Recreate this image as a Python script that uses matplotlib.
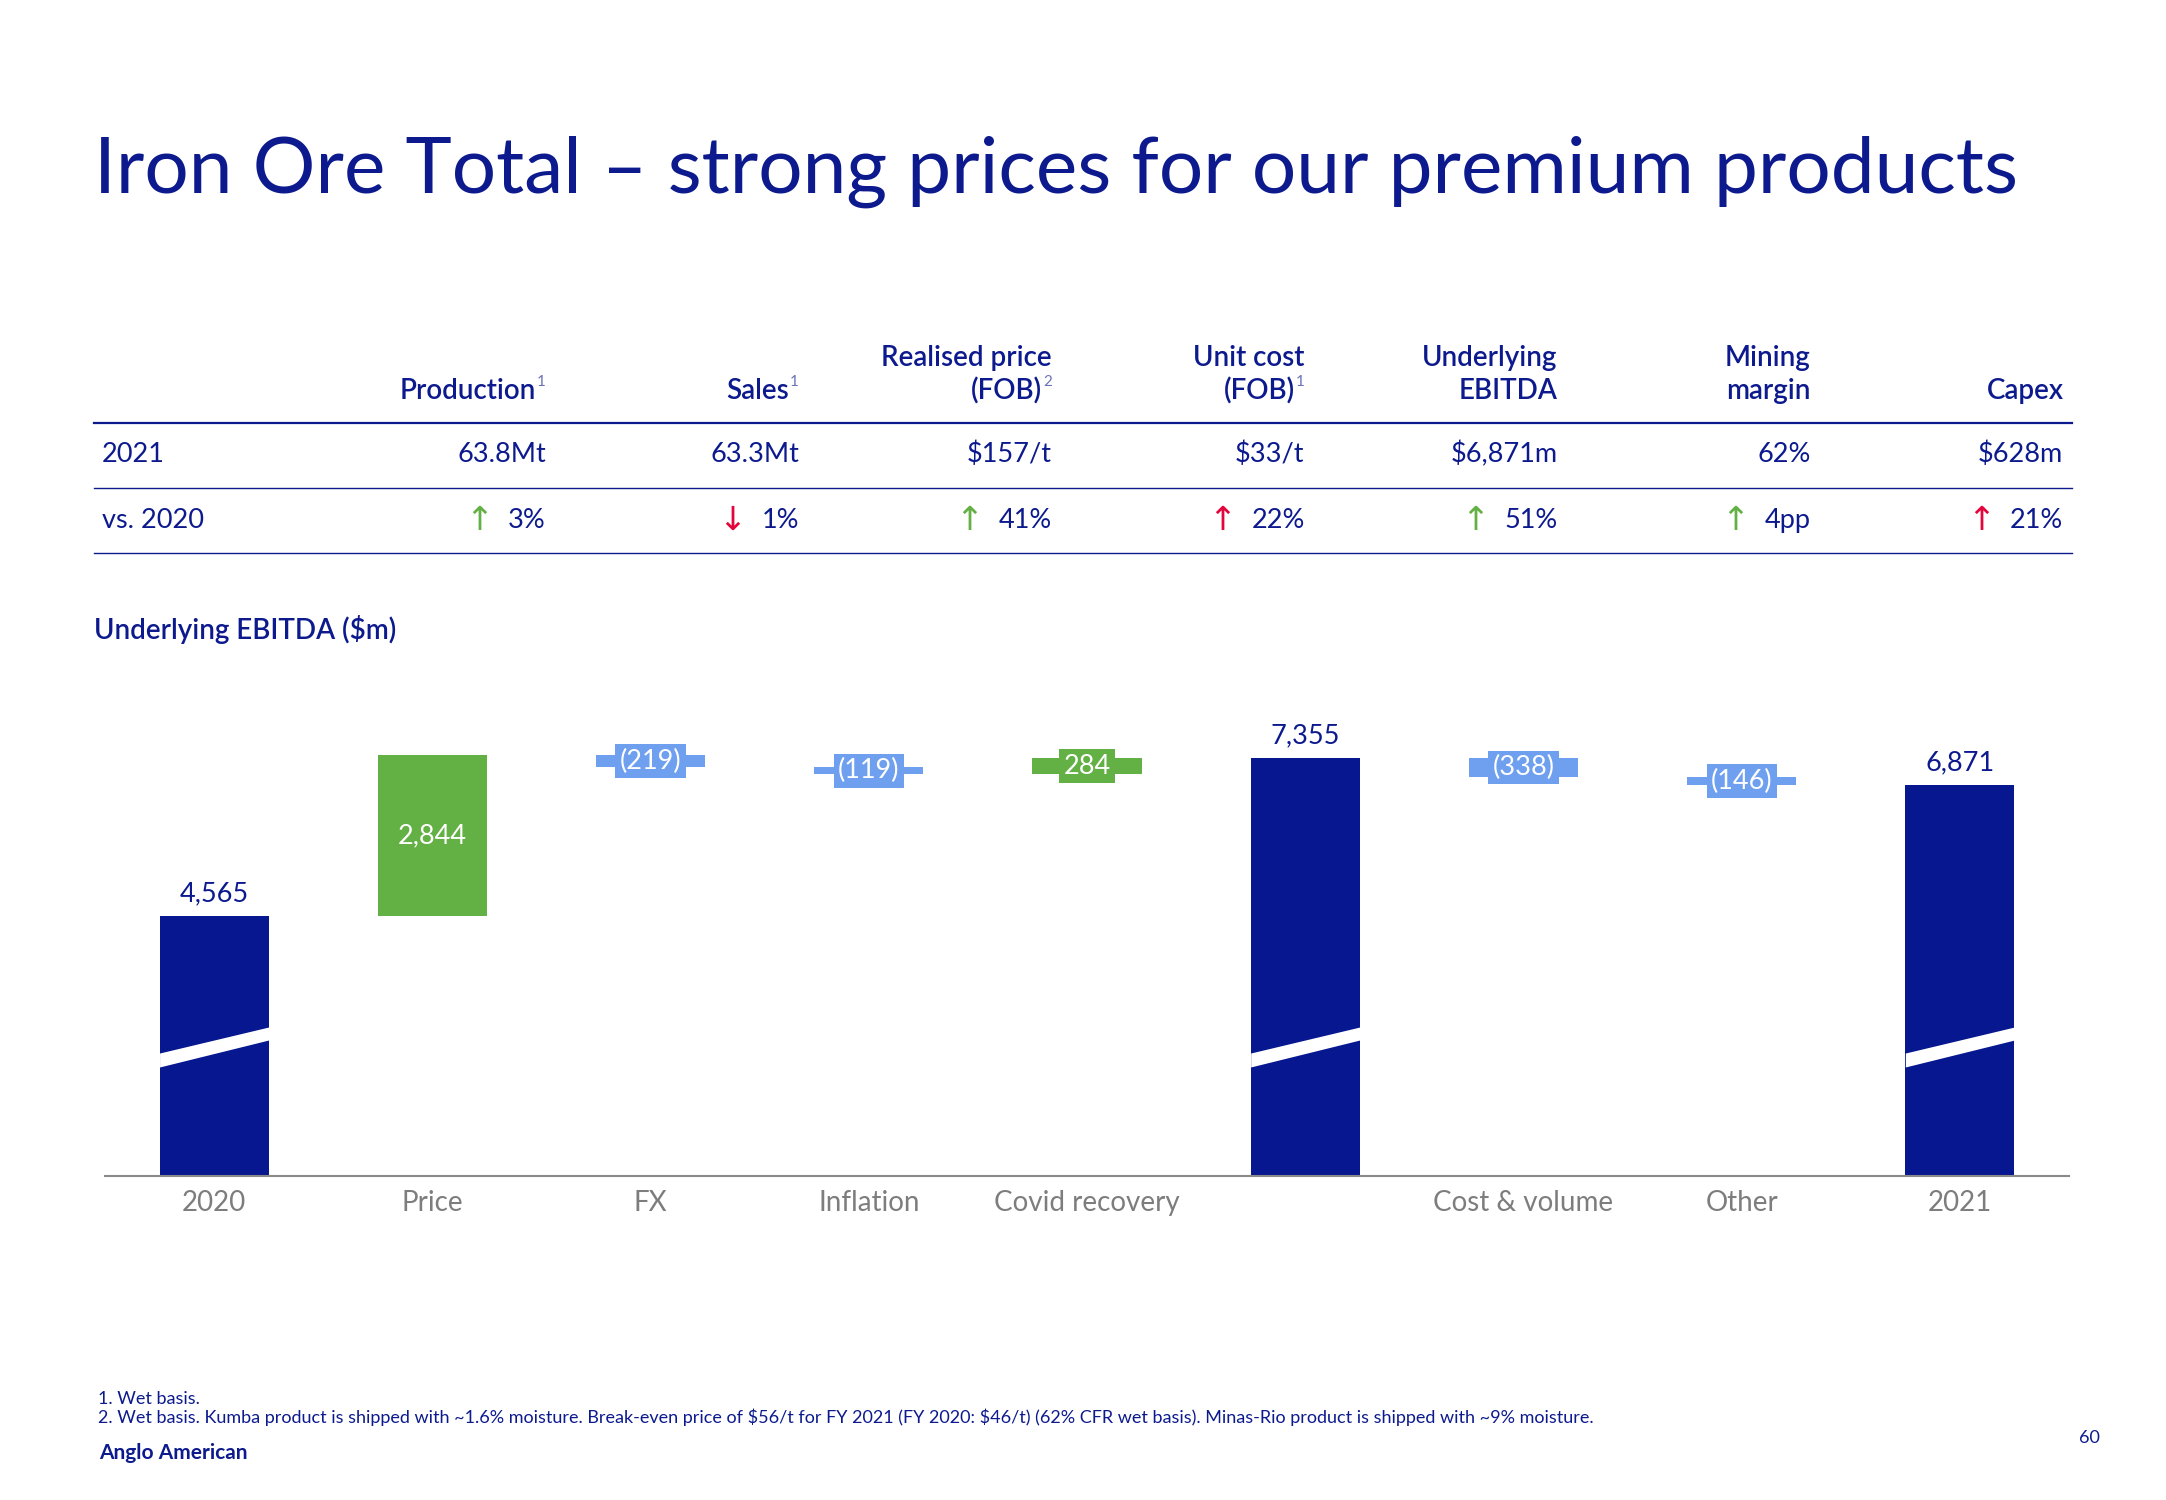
"""Iron Ore Total - underlying EBITDA waterfall with KPI header table."""

import matplotlib

matplotlib.use("Agg")

import matplotlib.pyplot as plt  # noqa: E402
import numpy as np  # noqa: E402

W, H, DPI = 2166, 1500, 100

NAVY = "#0c1a8e"
BAR_NAVY = "#06178f"
GREEN = "#63b045"
LIGHT_BLUE = "#6ea0ef"
RED = "#e2063c"
AXIS_GRAY = "#8a8a8a"
LABEL_GRAY = "#7d7d7d"

BODY = 19.5
HEAD = 20

plt.rcParams["font.family"] = ["Lato", "DejaVu Sans"]

# ---- KPI table -------------------------------------------------------------
HEADER_TOP = ["", "", "Realised price", "Unit cost", "Underlying", "Mining", ""]
HEADER_BOTTOM = ["Production", "Sales", "(FOB)", "(FOB)", "EBITDA", "margin", "Capex"]
HEADER_SUP = ["1", "1", "2", "1", "", "", ""]
ROW_LABELS = ["2021", "vs. 2020"]
VALUES_2021 = [r"63.8Mt", r"63.3Mt", r"\$157/t", r"\$33/t", r"\$6,871m", r"62%", r"\$628m"]
CHANGE_TEXT = ["3%", "1%", "41%", "22%", "51%", "4pp", "21%"]
CHANGE_UP = [True, False, True, True, True, True, True]
CHANGE_FAVOURABLE = [True, False, True, False, True, True, False]

# ---- waterfall -------------------------------------------------------------
CATEGORIES = ["2020", "Price", "FX", "Inflation", "Covid recovery", "",
              "Cost & volume", "Other", "2021"]
STEP_VALUES = [4565, 2844, -219, -119, 284, 7355, -338, -146, 6871]
IS_TOTAL = [True, False, False, False, False, True, False, False, True]

FOOTNOTES = [
    "1. Wet basis.",
    "2. Wet basis. Kumba product is shipped with ~1.6% moisture. Break-even price of "
    r"\$56/t for FY 2021 (FY 2020: \$46/t) (62% CFR wet basis). Minas-Rio product is "
    "shipped with ~9% moisture.",
]


def fx(px):
    return px / W


def fy(py):
    return 1 - py / H


fig = plt.figure(figsize=(W / DPI, H / DPI), dpi=DPI)
fig.patch.set_facecolor("white")

fig.text(fx(94), fy(193), "Iron Ore Total \u2013 strong prices for our premium products",
         fontsize=56.5, color=NAVY, ha="left", va="baseline")

# table rules
for y, lw in ((422.7, 1.6), (487.6, 1.0), (552.6, 1.0)):
    fig.add_artist(plt.Line2D([fx(94), fx(2072)], [fy(y), fy(y)], color=NAVY, lw=lw))

col_right = 546 + 252.9 * np.arange(len(HEADER_BOTTOM))
for i, xr in enumerate(col_right):
    shift = 10 if HEADER_SUP[i] else 0
    if HEADER_TOP[i]:
        fig.text(fx(xr), fy(358), HEADER_TOP[i], fontsize=HEAD, color=NAVY,
                 ha="right", va="center", fontweight="semibold")
    fig.text(fx(xr - shift), fy(391), HEADER_BOTTOM[i], fontsize=HEAD, color=NAVY,
             ha="right", va="center", fontweight="semibold")
    if HEADER_SUP[i]:
        fig.text(fx(xr), fy(382), HEADER_SUP[i], fontsize=11, color="#6b72b8",
                 ha="right", va="center")
    fig.text(fx(xr), fy(454.5), VALUES_2021[i], fontsize=BODY, color=NAVY,
             ha="right", va="center")
    pct = fig.text(fx(xr), fy(520.8), CHANGE_TEXT[i], fontsize=BODY, color=NAVY,
                   ha="right", va="center")
    fig.add_artist(matplotlib.text.Annotation(
        "\u2191" if CHANGE_UP[i] else "\u2193", xy=(0, 0.5), xycoords=pct,
        xytext=(-11, 0), textcoords="offset points", ha="right", va="center",
        fontsize=24, color=GREEN if CHANGE_FAVOURABLE[i] else RED,
        family="DejaVu Sans"))

for label, y in zip(ROW_LABELS, (454.5, 520.8)):
    fig.text(fx(102), fy(y), label, fontsize=BODY, color=NAVY, ha="left", va="center")

fig.text(fx(94), fy(630), r"Underlying EBITDA (\$m)", fontsize=HEAD, color=NAVY,
         ha="left", va="center", fontweight="semibold")

# ---- waterfall chart -------------------------------------------------------
ax = fig.add_axes([fx(105), fy(1175.7), (2069 - 105) / W, 454.4 / H])
x = np.arange(len(CATEGORIES))
width = 0.5

bottoms, heights, colors = [], [], []
running = 0
for v, total in zip(STEP_VALUES, IS_TOTAL):
    if total:
        bottoms.append(0)
        heights.append(v)
        colors.append(BAR_NAVY)
        running = v
    else:
        bottoms.append(running + min(v, 0))
        heights.append(abs(v))
        colors.append(GREEN if v > 0 else LIGHT_BLUE)
        running += v

ax.bar(x, heights, bottom=bottoms, width=width, color=colors, linewidth=0)

# axis-break marks on the total bars
for xi, total in zip(x, IS_TOTAL):
    if total:
        ax.fill_between([xi - width / 2, xi + width / 2], [1914, 2389], [2160, 2618],
                        color="white", linewidth=0, zorder=3)

for xi, v, b, h, total in zip(x, STEP_VALUES, bottoms, heights, IS_TOTAL):
    if total:
        ax.annotate(f"{v:,}", (xi, b + h), xytext=(0, 7), textcoords="offset points",
                    ha="center", va="bottom", fontsize=BODY, color=NAVY)
        continue
    text = f"{v:,}" if v > 0 else f"({abs(v):,})"
    if abs(v) > 1000:
        ax.text(xi, b + h / 2, text, ha="center", va="center", fontsize=BODY, color="white")
    else:
        ax.text(xi, b + h / 2, text, ha="center", va="center", fontsize=BODY, color="white",
                zorder=4, bbox=dict(boxstyle="square,pad=0.16",
                                    fc=GREEN if v > 0 else LIGHT_BLUE, ec="none"))

ax.set_xlim(-0.5, len(CATEGORIES) - 0.5)
ax.set_ylim(0, 8000)
ax.set_xticks(x)
ax.set_xticklabels(CATEGORIES, fontsize=HEAD, color=LABEL_GRAY)
ax.tick_params(axis="x", length=0, pad=10)
ax.set_yticks([])
for side in ("top", "right", "left"):
    ax.spines[side].set_visible(False)
ax.spines["bottom"].set_color(AXIS_GRAY)
ax.spines["bottom"].set_linewidth(1.5)

# ---- footer ----------------------------------------------------------------
fig.text(fx(98), fy(1399), FOOTNOTES[0], fontsize=13, color=NAVY, ha="left", va="center")
fig.text(fx(98), fy(1417), FOOTNOTES[1], fontsize=13, color=NAVY, ha="left", va="center")
fig.text(fx(99), fy(1453), "Anglo American", fontsize=15, color=NAVY, ha="left",
         va="center", fontweight="bold")
fig.text(fx(2100), fy(1438), "60", fontsize=13, color=NAVY, ha="right", va="center")

fig.savefig("out.png", dpi=DPI)
